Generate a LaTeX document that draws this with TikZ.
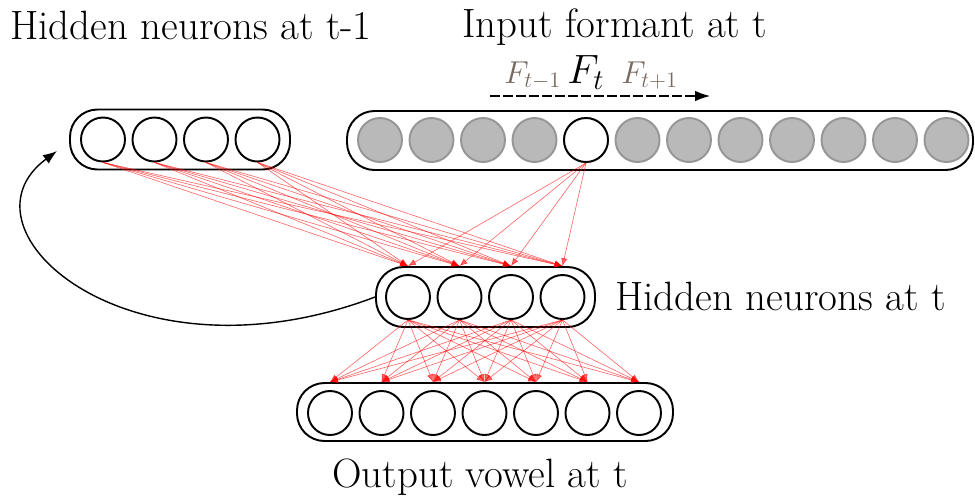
\RequirePackage{fix-cm}
\documentclass[tikz,border=0pt]{standalone}
\usetikzlibrary{arrows.meta}
\definecolor{neurongray}{RGB}{185,185,185}
\definecolor{neuronedge}{RGB}{150,150,150}
\definecolor{fbrown}{RGB}{120,105,95}
\tikzset{
  neuron/.style={draw,circle,line width=1.1pt,minimum size=0.88cm,inner sep=0pt,fill=white},
  offneuron/.style={neuron,draw=neuronedge,fill=neurongray},
  layer/.style={draw,rounded corners=0.55cm,line width=1.1pt,inner sep=0pt},
  weight/.style={red,opacity=0.6,line width=0.35pt,-{Latex[length=4.5pt,width=3.5pt]}},
  lbl/.style={anchor=base west,inner sep=0pt,font=\fontsize{23.3}{28}\selectfont}
}
\begin{document}
\begin{tikzpicture}
\useasboundingbox (0,0) rectangle (19.5,-10.06);
% layers
\node[layer,minimum width=4.4cm,minimum height=1.2cm](pbox) at (3.6,-2.79) {};
\node[layer,minimum width=12.52cm,minimum height=1.18cm](inbox) at (13.2,-2.81) {};
\node[layer,minimum width=4.38cm,minimum height=1.2cm](hbox) at (9.71,-5.94) {};
\node[layer,minimum width=7.52cm,minimum height=1.16cm](obox) at (9.7,-8.24) {};
% neurons
\foreach \i in {1,...,4} \node[neuron](p\i) at ({2.06+1.03*(\i-1)},-2.79) {};
\foreach \i in {1,...,12} \node[offneuron](in\i) at ({7.6+1.03*(\i-1)},-2.8) {};
\node[neuron](in5) at ({7.6+1.03*4},-2.8) {};
\foreach \i in {1,...,4} \node[neuron](h\i) at ({8.16+1.03*(\i-1)},-5.94) {};
\foreach \i in {1,...,7} \node[neuron](o\i) at ({6.6+1.03*(\i-1)},-8.26) {};
% weights
\foreach \j in {1,...,4} {
  \foreach \i in {1,...,4} \draw[weight] (p\i.south) -- (h\j |- hbox.north);
  \draw[weight] (in5.south) -- (h\j |- hbox.north);
}
\foreach \i in {1,...,4}
  \foreach \k in {1,...,7} \draw[weight] (h\i.south) -- (o\k |- obox.north);
% recurrence
\coordinate (back) at (1.14,-3.02);
\draw[line width=0.8pt,-{Latex[length=2.8mm,width=2.1mm]}] (hbox.west) .. controls (2.6,-7.8) and (-1,-4.6) .. (back);
% time axis
\coordinate (fstart) at (9.8,-1.92);
\coordinate (fend) at (14.2,-1.92);
\draw[line width=0.6pt,dash pattern=on 0.2cm off 0.06cm,-{Latex[length=3mm,width=2.1mm]}] (fstart) -- (fend);
\node[anchor=base west,inner sep=0pt,text=fbrown,font=\fontsize{18}{22}\selectfont](fprev) at (10.08,-1.66) {$F_{t-1}$};
\node[anchor=base west,inner sep=0pt,font=\fontsize{23.3}{28}\selectfont](fcur) at (11.34,-1.66) {$F_t$};
\node[anchor=base west,inner sep=0pt,text=fbrown,font=\fontsize{18}{22}\selectfont](fnext) at (12.42,-1.66) {$F_{t+1}$};
% labels
\node[lbl](plbl) at (0.2,-0.78) {Hidden neurons at t-1};
\node[lbl](inlbl) at (9.24,-0.74) {Input formant at t};
\node[lbl](hlbl) at (12.3,-6.2) {Hidden neurons at t};
\node[lbl](olbl) at (6.64,-9.74) {Output vowel at t};
\end{tikzpicture}
\end{document}
